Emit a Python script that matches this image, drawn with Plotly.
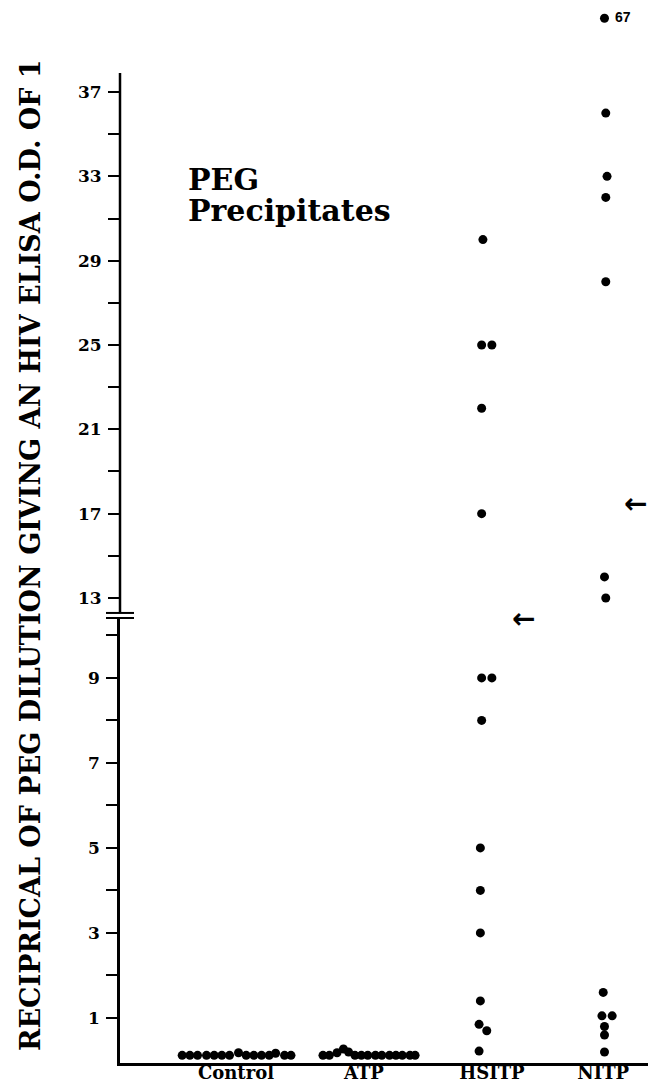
import plotly.graph_objects as go

# ---------------- data ----------------
categories = ["Control", "ATP", "HSITP", "NITP"]
category_pos = [1.0, 2.0, 3.0, 3.87]

control_values = [0.12, 0.12, 0.12, 0.12, 0.12, 0.12, 0.12, 0.18, 0.12, 0.12, 0.12, 0.12, 0.17, 0.12, 0.12]
control_dx = [-0.42, -0.36, -0.30, -0.23, -0.17, -0.11, -0.05, 0.02, 0.08, 0.14, 0.20, 0.26, 0.31, 0.38, 0.43]

atp_values = [0.12, 0.12, 0.18, 0.27, 0.2, 0.12, 0.12, 0.12, 0.12, 0.12, 0.12, 0.12, 0.12, 0.12, 0.12]
atp_dx = [-0.32, -0.27, -0.21, -0.16, -0.12, -0.07, -0.02, 0.03, 0.09, 0.14, 0.20, 0.25, 0.30, 0.36, 0.40]

hsitp_values = [30, 25, 25, 22, 17, 9, 9, 8, 5, 4, 3, 1.4, 0.85, 0.7, 0.22]
hsitp_dx = [-0.07, -0.08, 0.0, -0.08, -0.08, -0.08, 0.0, -0.08, -0.09, -0.09, -0.09, -0.09, -0.10, -0.04, -0.10]

nitp_values = [67, 36, 33, 32, 28, 14, 13, 1.6, 1.05, 1.05, 0.8, 0.6, 0.2]
nitp_dx = [0.01, 0.02, 0.03, 0.02, 0.02, 0.01, 0.02, 0.0, -0.01, 0.07, 0.01, 0.01, 0.01]

# mean arrows (value on the axis)
arrow_groups = ["HSITP", "NITP"]
arrow_values = [10.39, 17.5]

lower_ticks = [1, 3, 5, 7, 9]
lower_minor = [2, 4, 6, 8, 10]
upper_ticks = [13, 17, 21, 25, 29, 33, 37]
upper_minor = [15, 19, 23, 27, 31, 35]

y_title = "RECIPRICAL OF PEG DILUTION GIVING AN HIV ELISA O.D. OF 1"
panel_title = ["PEG", "Precipitates"]

# ---------------- layout constants ----------------
W, H = 651, 1085
L_M, R_M, T_M, B_M = 120, 3, 10, 22
PLOT_W = W - L_M - R_M
PLOT_H = H - T_M - B_M
LOWER_RANGE = [-0.06, 10.41]
UPPER_RANGE = [12.29, 40.89]
UPPER_AXIS_TOP = 37.9
LOWER_DOMAIN = [0.0, 0.4226]
UPPER_DOMAIN = [0.4274, 1.0]
X_RANGE = [0.094, 4.22]
OFFSCALE_Y = 40.5
SERIF = "DejaVu Serif"


def py(px):  # paper y from pixel row
    return (H - B_M - px) / PLOT_H


def pxx(px):  # paper x from pixel column
    return (px - L_M) / PLOT_W


groups = {
    "Control": (control_values, control_dx),
    "ATP": (atp_values, atp_dx),
    "HSITP": (hsitp_values, hsitp_dx),
    "NITP": (nitp_values, nitp_dx),
}

fig = go.Figure()
marker = dict(color="black", size=9, line=dict(width=0))

for cat, cx in zip(categories, category_pos):
    vals, dxs = groups[cat]
    lx, ly, ux, uy, ox, oy, ot = [], [], [], [], [], [], []
    for v, d in zip(vals, dxs):
        if v <= LOWER_RANGE[1]:
            lx.append(cx + d); ly.append(v)
        elif v <= UPPER_AXIS_TOP:
            ux.append(cx + d); uy.append(v)
        else:
            ox.append(cx + d); oy.append(OFFSCALE_Y); ot.append(str(v))
    if lx:
        fig.add_trace(go.Scatter(x=lx, y=ly, mode="markers", marker=marker,
                                 xaxis="x", yaxis="y", showlegend=False, cliponaxis=False))
    if ux:
        fig.add_trace(go.Scatter(x=ux, y=uy, mode="markers", marker=marker,
                                 xaxis="x", yaxis="y2", showlegend=False, cliponaxis=False))
    if ox:
        fig.add_trace(go.Scatter(x=ox, y=oy, mode="markers+text", marker=marker,
                                 text=[" " + t for t in ot], textposition="middle right",
                                 textfont=dict(family="Liberation Sans", size=14, color="black", weight="bold"),
                                 xaxis="x", yaxis="y2", showlegend=False, cliponaxis=False))

tick_common = dict(
    showgrid=False, zeroline=False, linecolor="black", linewidth=2.5,
    ticks="outside", ticklen=11, tickwidth=2, tickcolor="black",
    tickfont=dict(family=SERIF, size=17, color="black", weight="bold"),
    ticklabelstandoff=3,
)

fig.update_layout(
    width=W, height=H,
    margin=dict(l=L_M, r=R_M, t=T_M, b=B_M, autoexpand=False),
    paper_bgcolor="white", plot_bgcolor="white",
    xaxis=dict(range=X_RANGE, showgrid=False, zeroline=False, showline=True,
               linecolor="black", linewidth=2.5, ticks="",
               tickvals=category_pos, ticktext=categories,
               tickfont=dict(family=SERIF, size=18, color="black", weight="bold"),
               ticklabelstandoff=-8, anchor="y"),
    yaxis=dict(domain=LOWER_DOMAIN, range=LOWER_RANGE, tickvals=lower_ticks, showline=True,
               minor=dict(tickvals=lower_minor, ticks="outside", ticklen=11, tickwidth=2, tickcolor="black"),
               anchor="x", **tick_common),
    yaxis2=dict(domain=UPPER_DOMAIN, range=UPPER_RANGE, tickvals=upper_ticks, showline=False,
                minor=dict(tickvals=upper_minor, ticks="outside", ticklen=11, tickwidth=2, tickcolor="black"),
                anchor="x", **tick_common),
)

# upper y axis line (stops at the top of the scale)
fig.add_shape(type="line", xref="paper", yref="y2", x0=0, x1=0,
              y0=UPPER_RANGE[0], y1=UPPER_AXIS_TOP, line=dict(color="black", width=2.5))

# break marks on the y axis
for yp in (LOWER_DOMAIN[1], UPPER_DOMAIN[0]):
    fig.add_shape(type="line", xref="paper", yref="paper",
                  x0=pxx(106), x1=pxx(134), y0=yp, y1=yp,
                  line=dict(color="black", width=2))

# mean arrows
for g, v in zip(arrow_groups, arrow_values):
    cx = category_pos[categories.index(g)]
    yref = "y" if v <= LOWER_RANGE[1] else "y2"
    fig.add_annotation(x=cx + 0.25, y=v, xref="x", yref=yref, text="←", showarrow=False,
                       font=dict(family="DejaVu Sans", size=28, color="black", weight="bold"))

# y axis title
fig.add_annotation(x=pxx(30), y=py(555), xref="paper", yref="paper", text=y_title,
                   textangle=-90, showarrow=False, xanchor="center", yanchor="middle",
                   font=dict(family=SERIF, size=27, color="black", weight="bold"))

# panel title
fig.add_annotation(x=pxx(186), y=py(180), xref="paper", yref="paper", text=panel_title[0],
                   showarrow=False, xanchor="left", yanchor="middle",
                   font=dict(family=SERIF, size=30, color="black", weight="bold"))
fig.add_annotation(x=pxx(186), y=py(211), xref="paper", yref="paper", text=panel_title[1],
                   showarrow=False, xanchor="left", yanchor="middle",
                   font=dict(family=SERIF, size=30, color="black", weight="bold"))

fig.write_html("out.html", config={"displayModeBar": False},
               post_script="document.body.style.margin='0';")
